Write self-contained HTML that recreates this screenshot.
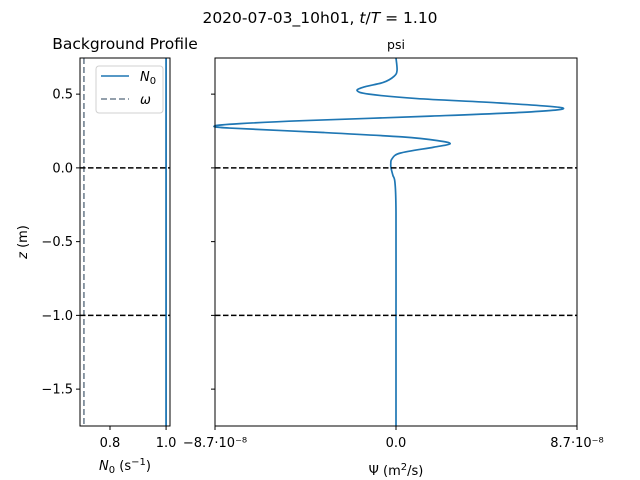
<!DOCTYPE html>
<html><head><meta charset="utf-8"><style>
body{margin:0;background:#fff;}
svg{display:block;font-family:"DejaVu Sans","Liberation Sans",sans-serif;}
</style></head><body>
<svg id="fig" width="640" height="480" viewBox="0 0 640 480">
<rect width="640" height="480" fill="#fff"/>
<text x="320" y="23" text-anchor="middle" font-size="15.5">2020-07-03_10h01, <tspan font-style="italic">t</tspan>/<tspan font-style="italic">T</tspan> = 1.10</text>
<text x="125" y="49" text-anchor="middle" font-size="15.5">Background Profile</text>
<text x="396" y="49" text-anchor="middle" font-size="12.5">psi</text>
<g id="left"></g>
<g id="right"></g>
<text x="27" y="242" text-anchor="middle" font-size="13" transform="rotate(-90 27 242)"><tspan font-style="italic">z</tspan> (m)</text>
<text x="125" y="470" text-anchor="middle" font-size="13"><tspan font-style="italic">N</tspan><tspan font-size="10" dy="3">0</tspan><tspan dy="-3"> (s</tspan><tspan font-size="10" dy="-5">−1</tspan><tspan dy="5">)</tspan></text>
<text x="396" y="475" text-anchor="middle" font-size="13">Ψ (m<tspan font-size="10" dy="-5">2</tspan><tspan dy="5">/s)</tspan></text>
<g>
<rect x="96" y="66" width="67" height="47" rx="3" fill="#fff" stroke="#ccc" opacity="0.9"/>
<line x1="101" y1="76" x2="129" y2="76" stroke="#1f77b4" stroke-width="1.6"/>
<text x="140" y="81" font-size="13" font-style="italic">N<tspan font-size="10" dy="3" font-style="normal">0</tspan></text>
<line x1="101" y1="99" x2="129" y2="99" stroke="#708090" stroke-width="1.6" stroke-dasharray="6,3"/>
<text x="140" y="104" font-size="13" font-style="italic">ω</text>
</g>
</svg>
<script>
const zTicks=[0.5,0,-0.5,-1,-1.5];
const zTickLabels=["0.5","0.0","−0.5","−1.0","−1.5"];
const n0Ticks=[0.8,1.0];
const n0TickLabels=["0.8","1.0"];
const psiTicks=[-8.7,0,8.7];
const psiTickLabels=["−8.7·10⁻⁸","0.0","8.7·10⁻⁸"];
const n0Value=[1.0];
const omegaValue=[0.707];
const hlineZ=[0,-1];
const psiZ=[0.745,0.66,0.62,0.58,0.55,0.524,0.50,0.47,0.44,0.407,0.38,0.35,0.32,0.30,0.285,0.27,0.24,0.21,0.185,0.163,0.14,0.10,0.06,0.03,0.0,-0.05,-0.1,-0.3,-1.0,-1.75];
const psiVal=[0,0.05,-0.1,-0.6,-1.5,-1.87,-1.3,1.0,5.0,8.0,6.5,1.5,-4.5,-7.5,-8.7,-8.0,-3.5,0.3,2.0,2.6,1.8,0.2,-0.2,-0.25,-0.24,-0.15,-0.05,0,0,0];

const NS="http://www.w3.org/2000/svg";
const top_=58,bot=426,zmin=-1.75,zmax=0.745;
const yS=z=>top_+(zmax-z)/(zmax-zmin)*(bot-top_);
const lx0=80,lx1=170,nmin=0.693,nmax=1.014;
const xL=v=>lx0+(v-nmin)/(nmax-nmin)*(lx1-lx0);
const rx0=215,rx1=577;
const xR=v=>rx0+(v+8.7)/17.4*(rx1-rx0);
function mk(parent,tag,attrs){const e=document.createElementNS(NS,tag);for(const k in attrs)e.setAttribute(k,attrs[k]);parent.appendChild(e);return e;}
const L=document.getElementById('left'),R=document.getElementById('right');
let e=mk(L,'line',{x1:xL(omegaValue[0]),x2:xL(omegaValue[0]),y1:top_,y2:bot,stroke:'#708090','stroke-width':1.6,'stroke-dasharray':'6,3'});


e=mk(L,'line',{x1:xL(n0Value[0]),x2:xL(n0Value[0]),y1:top_,y2:bot,stroke:'#1f77b4','stroke-width':1.8});


// psi curve, Catmull-Rom smoothed
const P=psiZ.map((z,i)=>[xR(psiVal[i]),yS(z)]);
let d='M'+P[0][0].toFixed(2)+','+P[0][1].toFixed(2);
for(let i=0;i<P.length-1;i++){
 const p0=P[Math.max(i-1,0)],p1=P[i],p2=P[i+1],p3=P[Math.min(i+2,P.length-1)];
 const c1=[p1[0]+(p2[0]-p0[0])/6,p1[1]+(p2[1]-p0[1])/6];
 const c2=[p2[0]-(p3[0]-p1[0])/6,p2[1]-(p3[1]-p1[1])/6];
 d+='C'+c1[0].toFixed(2)+','+c1[1].toFixed(2)+' '+c2[0].toFixed(2)+','+c2[1].toFixed(2)+' '+p2[0].toFixed(2)+','+p2[1].toFixed(2);
}
e=mk(R,'path',{d:d,fill:'none',stroke:'#1f77b4','stroke-width':1.7,'stroke-linejoin':'round'});


hlineZ.forEach(z=>{
 e=mk(L,'line',{x1:lx0,x2:lx1,y1:yS(z),y2:yS(z),stroke:'#000','stroke-width':1.5,'stroke-dasharray':'5.5,2.5'});
 
 
 e=mk(R,'line',{x1:rx0,x2:rx1,y1:yS(z),y2:yS(z),stroke:'#000','stroke-width':1.5,'stroke-dasharray':'5.5,2.5'});
 
 
});
e=mk(L,'rect',{x:lx0,y:top_,width:lx1-lx0,height:bot-top_,fill:'none',stroke:'#000','stroke-width':1});


e=mk(R,'rect',{x:rx0,y:top_,width:rx1-rx0,height:bot-top_,fill:'none',stroke:'#000','stroke-width':1});


zTicks.forEach((z,i)=>{
 const y=yS(z);
 mk(L,'line',{x1:lx0-4,x2:lx0,y1:y,y2:y,stroke:'#000'});
 mk(R,'line',{x1:rx0-4,x2:rx0,y1:y,y2:y,stroke:'#000'});
 e=mk(L,'text',{x:lx0-7,y:y+4.5,'text-anchor':'end','font-size':13});
 e.textContent=zTickLabels[i];
 
 
});
n0Ticks.forEach((v,i)=>{
 const x=xL(v);
 mk(L,'line',{x1:x,x2:x,y1:bot,y2:bot+4,stroke:'#000'});
 e=mk(L,'text',{x:x,y:bot+21,'text-anchor':'middle','font-size':13});
 e.textContent=n0TickLabels[i];
 
 
});
psiTicks.forEach((v,i)=>{
 const x=xR(v);
 mk(R,'line',{x1:x,x2:x,y1:bot,y2:bot+4,stroke:'#000'});
 e=mk(R,'text',{x:x,y:bot+21,'text-anchor':'middle','font-size':13});
 e.textContent=psiTickLabels[i];
 
 
});
</script>
</body></html>
